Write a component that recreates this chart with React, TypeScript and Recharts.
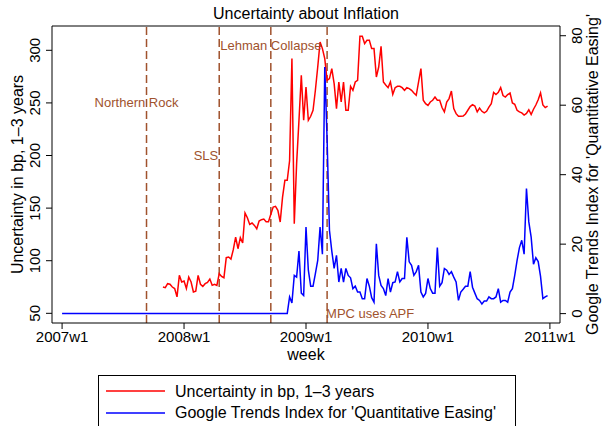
import React from 'react'
import {
  LineChart, Line, XAxis, YAxis, ReferenceLine, ReferenceDot,
} from 'recharts'

const FONT = '"Liberation Sans", Arial, Helvetica, sans-serif'
const EVENT_COLOR = '#A0522D'

// week index: 0 = 2007w1, 52 = 2008w1, ...
const xTicks = [0, 52, 104, 156, 208]
const xTickLabels = ['2007w1', '2008w1', '2009w1', '2010w1', '2011w1']
const leftTicks = [50, 100, 150, 200, 250, 300]
const rightTicks = [0, 20, 40, 60, 80]

// uncertainty in bp, 1-3 years, from 2007w44 (index 43) to 2010w52
const uncertaintyStart = 43
const uncertainty = [
  75.0, 74.4, 78.2, 77.6, 75.0, 73.6, 65.7, 86.1, 79.8, 80.7, 73.6, 84.5, 79.8, 70.3, 71.0, 86.1,
  77.6, 75.6, 78.2, 79.4, 82.6, 76.6, 77.6, 76.6, 87.7,
  85.1, 83.8, 102.9, 103.5, 101.6, 110.5, 122.5, 111.4, 121.9, 116.8, 145.3, 140.9, 134.5, 135.8,
  133.6, 130.4, 137.7, 139.0, 139.6, 137.1, 137.1, 144.1, 151.0, 151.7, 147.9, 136.8, 160.5, 176.4, 176.4,
  195.0, 292.1, 135.2, 192.3, 233.5, 276.2, 233.5, 265.1, 233.5, 237.3, 243.0, 262.0, 284.1, 307.9,
  301.6, 292.1, 271.5, 273.1, 282.6, 268.3, 244.6, 269.9, 250.9, 269.9, 243.0, 243.0, 265.8, 262.0,
  269.9, 271.5,
  313.3, 313.3, 306.4, 309.5, 309.5, 301.6, 301.6, 274.6, 284.1, 303.8, 269.9, 267.0, 264.5, 269.9,
  258.2, 264.5, 265.8, 265.8, 264.5, 262.0, 264.5, 263.6, 262.0, 259.4, 257.2, 269.9, 282.6, 252.5,
  249.3, 247.7, 250.9, 252.5, 255.6, 252.5, 252.5, 245.6, 241.4, 250.9, 254.1, 261.3, 244.6, 239.8,
  237.3, 237.3, 237.5, 239.5, 243.0, 246.5, 248.3, 247.0, 241.5, 245.0, 242.0, 240.5, 242.0, 246.0,
  249.3, 260.0, 258.0, 260.0, 264.5, 257.0, 255.6, 258.0, 259.4, 250.0, 248.7, 243.0, 241.4, 240.5,
  238.5, 240.0, 243.5, 239.0, 244.0, 248.0, 253.0, 259.5, 248.0, 245.6, 247.0,
]

// Google Trends index for 'Quantitative Easing', from 2007w1
const trends = [
  0, 0, 0, 0, 0, 0, 0, 0, 0, 0, 0, 0, 0, 0, 0, 0, 0, 0, 0, 0,
  0, 0, 0, 0, 0, 0, 0, 0, 0, 0, 0, 0, 0, 0, 0, 0, 0, 0, 0, 0,
  0, 0, 0, 0, 0, 0, 0, 0, 0, 0, 0, 0, 0, 0, 0, 0, 0, 0, 0, 0,
  0, 0, 0, 0, 0, 0, 0, 0, 0, 0, 0, 0, 0, 0, 0, 0, 0, 0, 0, 0,
  0, 0, 0, 0, 0, 0, 0, 0, 0, 0, 0, 0, 0, 0, 0, 0, 0,
  4.8, 3.1, 11.0, 10.5, 18.0, 5.9, 5.2, 24.9, 12.5, 7.9, 7.9, 11.5, 15.3, 24.9, 17.1, 71.0,
  50.0, 24.0, 18.0, 13.0, 16.8, 9.1, 13.0, 9.1, 13.0, 11.0, 10.3, 7.2, 7.9, 6.2, 6.2, 4.3, 4.3,
  10.1, 7.9, 4.6, 3.3, 20.1, 11.0, 8.1, 7.2, 5.2, 10.1, 6.2, 8.9, 9.1, 12.1, 9.1, 10.1, 10.1,
  22.0, 14.9, 13.9, 11.0, 12.1, 13.9, 6.2, 4.8, 5.8, 10.1, 7.2, 5.9, 5.9, 19.0, 7.9, 8.9, 13.0,
  12.5, 11.3, 12.1, 10.5, 9.1, 3.8, 6.2, 7.0, 7.9, 7.9, 12.1, 7.6, 5.9, 4.3, 3.8, 2.8, 3.6, 3.6,
  4.8, 4.3, 4.3, 4.8, 7.2, 3.3, 3.8, 3.8, 3.3, 6.2, 7.2, 11.0, 15.3, 19.0, 21.1, 17.1, 36.0,
  26.4, 22.0, 14.2, 16.1, 15.0, 10.7, 4.3, 4.8, 5.2,
]

// events: week index, label, label height (left axis units)
const eventWeeks = [36, 67, 89, 113]
const eventLabels = ['Northern Rock', 'SLS', 'Lehman Collapse', 'MPC uses APF']
const eventLevels = [250, 200, 305, 50]
const eventAnchor = ['middle', 'end', 'middle', 'start']
const eventDx = [-10, -1, 0, -1]

const rows = trends.map((t, week) => ({
  week,
  uncertainty: week >= uncertaintyStart ? uncertainty[week - uncertaintyStart] : null,
  trends: t,
}))

const LeftTick = ({ x, y, payload }: any) => {
  const bx = x - 4
  return (
    <text x={bx} y={y} transform={`rotate(-90 ${bx} ${y})`} textAnchor="middle"
      fontSize={15} fill="#000" fontFamily={FONT}>{payload.value}</text>
  )
}

const RightTick = ({ x, y, payload }: any) => {
  const bx = x + 14
  return (
    <text x={bx} y={y} transform={`rotate(-90 ${bx} ${y})`} textAnchor="middle"
      fontSize={15} fill="#000" fontFamily={FONT}>{payload.value}</text>
  )
}

const axisTitle = (text: string, dx: number) => (props: any) => {
  const vb = props.viewBox
  const bx = vb.x + dx
  const by = vb.y + vb.height / 2
  return (
    <text x={bx} y={by} transform={`rotate(-90 ${bx} ${by})`} textAnchor="middle"
      fontSize={16} fill="#000" fontFamily={FONT}>{text}</text>
  )
}

const weekLabel = (props: any) => {
  const vb = props.viewBox
  return (
    <text x={vb.x + vb.width / 2} y={vb.y + 37} textAnchor="middle"
      fontSize={16} fill="#000" fontFamily={FONT}>week</text>
  )
}

export default function App() {
  return (
    <div style={{ position: 'absolute', left: 0, top: 0, width: 602, height: 426, background: '#fff' }}>
      <LineChart width={602} height={426} data={rows} margin={{ top: 26, right: 0, bottom: 0, left: 0 }}>
        <XAxis dataKey="week" type="number" domain={[-4.3, 212.3]} allowDataOverflow ticks={xTicks}
          tickFormatter={(v: number) => xTickLabels[xTicks.indexOf(v)]}
          height={103} tickSize={6} stroke="#000"
          tick={{ fontSize: 15, fill: '#000', fontFamily: FONT }}
          label={weekLabel} />
        <YAxis yAxisId="left" orientation="left" width={52} domain={[40.8, 323.1]} allowDataOverflow
          ticks={leftTicks} tickSize={6} stroke="#000" tick={<LeftTick />}
          label={axisTitle('Uncertainty in bp, 1–3 years', 23)} />
        <YAxis yAxisId="right" orientation="right" width={42} domain={[-2.7, 82.8]} allowDataOverflow
          ticks={rightTicks} tickSize={6} stroke="#000" tick={<RightTick />}
          label={axisTitle("Google Trends Index for 'Quantitative Easing'", 38)} />
        <ReferenceLine yAxisId="left" y={323.1} stroke="#000" />
        {eventWeeks.map((w, i) => (
          <ReferenceLine key={'l' + i} yAxisId="left" x={w} stroke={EVENT_COLOR} strokeWidth={1.5}
            strokeDasharray="8 4" />
        ))}
        {eventWeeks.map((w, i) => (
          <ReferenceDot key={'t' + i} yAxisId="left" x={w} y={eventLevels[i]} r={0}
            shape={(p: any) => (
              <text x={p.cx + eventDx[i]} y={p.cy} textAnchor={eventAnchor[i] as any}
                dominantBaseline="central" fontSize={13} fill={EVENT_COLOR} fontFamily={FONT}>
                {eventLabels[i]}
              </text>
            )} />
        ))}
        <Line yAxisId="left" dataKey="uncertainty" stroke="#FF0000" strokeWidth={1.5} dot={false}
          type="linear" isAnimationActive={false} />
        <Line yAxisId="right" dataKey="trends" stroke="#0000FF" strokeWidth={1.5} dot={false}
          type="linear" isAnimationActive={false} />
      </LineChart>
      <svg width={602} height={426} style={{ position: 'absolute', left: 0, top: 0, pointerEvents: 'none' }}>
        <text x={306} y={19} textAnchor="middle" fontSize={16} fill="#000" fontFamily={FONT}>
          Uncertainty about Inflation
        </text>
        <g transform="translate(98 375)">
          <rect x={0.5} y={0.5} width={417} height={60} fill="none" stroke="#000" />
          <line x1={8} x2={67} y1={16} y2={16} stroke="#FF0000" strokeWidth={1.5} />
          <text x={77} y={21.7} fontSize={16} fill="#000" fontFamily={FONT}>Uncertainty in bp, 1–3 years</text>
          <line x1={8} x2={67} y1={38} y2={38} stroke="#0000FF" strokeWidth={1.5} />
          <text x={77} y={43.3} fontSize={16} fill="#000" fontFamily={FONT}>Google Trends Index for 'Quantitative Easing'</text>
        </g>
      </svg>
    </div>
  )
}
